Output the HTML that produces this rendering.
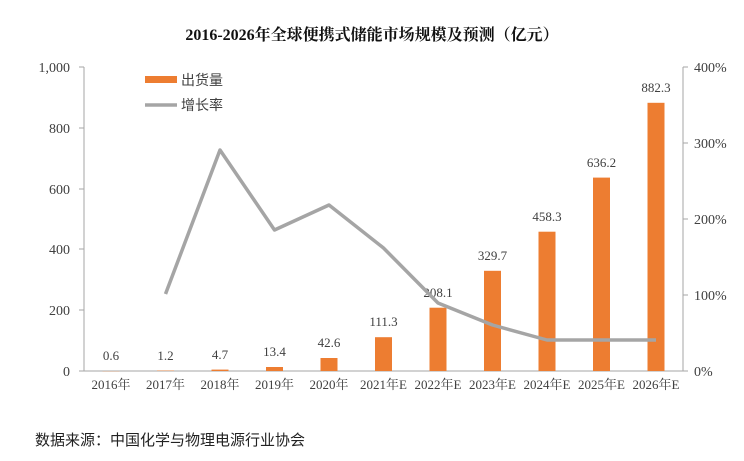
<!DOCTYPE html>
<html><head><meta charset="utf-8"><style>
body{margin:0;background:#fff;width:744px;height:456px;overflow:hidden}
</style></head><body>
<svg width="744" height="456" xmlns="http://www.w3.org/2000/svg" style="font-family:'Liberation Serif','Noto Serif CJK SC',serif">
<text x="372" y="40" text-anchor="middle" font-size="16" font-weight="bold" fill="#111">2016-2026年全球便携式储能市场规模及预测（亿元）</text>
<g stroke="#a6a6a6" stroke-width="1">
<line x1="84" y1="67" x2="84" y2="371"/><line x1="84" y1="371" x2="683" y2="371"/>
<line x1="683" y1="67" x2="683" y2="371"/>
<line x1="79" y1="67" x2="84" y2="67"/><line x1="79" y1="128" x2="84" y2="128"/><line x1="79" y1="189" x2="84" y2="189"/><line x1="79" y1="249" x2="84" y2="249"/><line x1="79" y1="310" x2="84" y2="310"/><line x1="79" y1="371" x2="84" y2="371"/>
<line x1="683" y1="67" x2="688" y2="67"/><line x1="683" y1="143" x2="688" y2="143"/><line x1="683" y1="219" x2="688" y2="219"/><line x1="683" y1="295" x2="688" y2="295"/><line x1="683" y1="371" x2="688" y2="371"/>
</g>
<g font-size="14" fill="#404040" text-anchor="end">
<text x="70" y="72">1,000</text><text x="70" y="133">800</text><text x="70" y="194">600</text><text x="70" y="254">400</text><text x="70" y="315">200</text><text x="70" y="376">0</text>
</g>
<g font-size="14" fill="#404040">
<text x="694" y="72">400%</text><text x="694" y="148">300%</text><text x="694" y="224">200%</text><text x="694" y="300">100%</text><text x="694" y="376">0%</text>
</g>
<g fill="#ed7d31">
<rect x="102.5" y="371" width="17" height="0.2"/>
<rect x="157" y="370.6" width="17" height="0.4"/>
<rect x="211.5" y="369.6" width="17" height="1.4"/>
<rect x="266" y="367" width="17" height="4"/>
<rect x="320.5" y="358" width="17" height="13"/>
<rect x="375" y="337.2" width="17" height="33.8"/>
<rect x="429.5" y="307.7" width="17" height="63.3"/>
<rect x="484" y="270.8" width="17" height="100.2"/>
<rect x="538.5" y="231.7" width="17" height="139.3"/>
<rect x="593" y="177.6" width="17" height="193.4"/>
<rect x="647.5" y="102.8" width="17" height="268.2"/>
</g>
<g font-size="13" fill="#404040" text-anchor="middle">
<text x="111" y="360">0.6</text><text x="165.5" y="360">1.2</text><text x="220" y="359">4.7</text><text x="274.5" y="356">13.4</text><text x="329" y="347">42.6</text><text x="383.5" y="326">111.3</text><text x="438" y="297">208.1</text><text x="492.5" y="260">329.7</text><text x="547" y="221">458.3</text><text x="601.5" y="167">636.2</text><text x="656" y="92">882.3</text>
</g>
<polyline fill="none" stroke="#a5a5a5" stroke-width="3.5" stroke-linejoin="round" points="165.5,294 220,150 274.5,230 329,205 383.5,248 438,303 492.5,325 547,340 601.5,340 656,340"/>
<g font-size="13" fill="#404040" text-anchor="middle">
<text x="111" y="389">2016年</text><text x="165.5" y="389">2017年</text><text x="220" y="389">2018年</text><text x="274.5" y="389">2019年</text><text x="329" y="389">2020年</text><text x="383.5" y="389">2021年E</text><text x="438" y="389">2022年E</text><text x="492.5" y="389">2023年E</text><text x="547" y="389">2024年E</text><text x="601.5" y="389">2025年E</text><text x="656" y="389">2026年E</text>
</g>
<rect x="145" y="76" width="32" height="7" fill="#ed7d31"/>
<line x1="145" y1="105" x2="177" y2="105" stroke="#a5a5a5" stroke-width="3.5"/>
<g font-size="14" fill="#404040" style="font-family:'Liberation Sans','Noto Sans CJK SC',sans-serif">
<text x="181" y="85">出货量</text><text x="181" y="110">增长率</text>
</g>
<text x="35" y="445" font-size="15" fill="#222" style="font-family:'Liberation Sans','Noto Sans CJK SC',sans-serif">数据来源：中国化学与物理电源行业协会</text>
</svg>
</body></html>
